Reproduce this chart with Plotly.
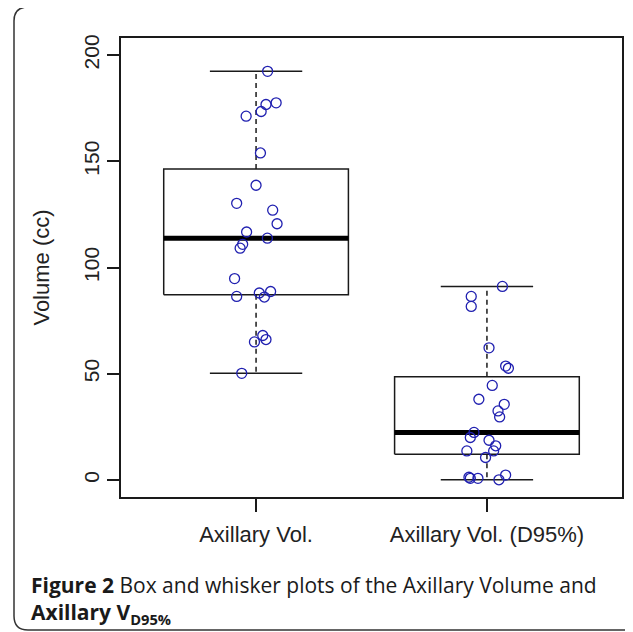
import numpy as np
import plotly.graph_objects as go

# ---------------- data ----------------
categories = ["Axillary Vol.", "Axillary Vol. (D95%)"]

axillary_vol = [192.3, 177.5, 176.7, 173.4, 171.2, 153.9, 138.7, 130.2, 127.0,
                120.6, 116.7, 113.8, 110.9, 109.1, 94.8, 86.4, 88.0, 86.1, 88.7,
                68.0, 66.1, 65.0, 50.2]
axillary_jitter = [0.050, 0.087, 0.043, 0.022, -0.043, 0.019, 0.000, -0.084, 0.072,
                   0.091, -0.041, 0.049, -0.058, -0.069, -0.093, -0.084, 0.014, 0.036,
                   0.063, 0.029, 0.043, -0.007, -0.062]

axillary_d95 = [91.1, 86.4, 81.7, 62.2, 53.6, 52.6, 44.5, 38.0, 35.6, 32.5, 29.7,
                22.4, 20.0, 18.7, 16.1, 13.7, 13.7, 10.6, 1.3, 0.8, 0.8, 2.3, 0.1]
d95_jitter = [0.067, -0.068, -0.068, 0.009, 0.081, 0.093, 0.023, -0.035, 0.075,
              0.048, 0.055, -0.056, -0.072, 0.009, 0.038, 0.029, -0.087, -0.006,
              -0.078, -0.072, -0.039, 0.081, 0.052]

y_tick_values = [0, 50, 100, 150, 200]
y_title = "Volume (cc)"
caption = ("<b>Figure 2</b> Box and whisker plots of the Axillary Volume and<br>"
           "<b>Axillary V<sub>D95%</sub></b>")

series = [axillary_vol, axillary_d95]
jitters = [axillary_jitter, d95_jitter]

# ---------------- layout geometry ----------------
OFF = 8                                  # page body margin
W, H = 633 - OFF, 632 - OFF
L, R, T, B = 121 - OFF, 622 - OFF, 38 - OFF, 497 - OFF   # plot area in figure pixels
BOX_HALF = 0.4
CAP_HALF = 0.2
LINE = "#1a1a1a"
PT = "#2020b0"


def tukey_stats(vals):
    v = np.sort(np.asarray(vals, dtype=float))
    n = len(v)
    n4 = np.floor((n + 3) / 2) / 2
    idx = np.array([1, n4, (n + 1) / 2, n + 1 - n4, n]) - 1
    s = 0.5 * (v[np.floor(idx).astype(int)] + v[np.ceil(idx).astype(int)])
    return s  # min, lower hinge, median, upper hinge, max


fig = go.Figure()

for i, vals in enumerate(series):
    xc = i + 1
    mn, q1, med, q3, mx = tukey_stats(vals)
    fig.add_trace(go.Scatter(x=[xc, xc, None, xc, xc], y=[q3, mx, None, q1, mn],
                             mode="lines", line=dict(color=LINE, width=1.5, dash="5px,4px"),
                             hoverinfo="skip", showlegend=False))
    fig.add_trace(go.Scatter(x=[xc - CAP_HALF, xc + CAP_HALF, None, xc - CAP_HALF, xc + CAP_HALF],
                             y=[mx, mx, None, mn, mn],
                             mode="lines", line=dict(color=LINE, width=1.5),
                             hoverinfo="skip", showlegend=False))
    fig.add_trace(go.Scatter(x=[xc - BOX_HALF, xc + BOX_HALF, xc + BOX_HALF, xc - BOX_HALF, xc - BOX_HALF],
                             y=[q1, q1, q3, q3, q1],
                             mode="lines", line=dict(color=LINE, width=1.5),
                             hoverinfo="skip", showlegend=False))
    fig.add_trace(go.Scatter(x=[xc - BOX_HALF, xc + BOX_HALF], y=[med, med],
                             mode="lines", line=dict(color="#000000", width=5),
                             hoverinfo="skip", showlegend=False))

for i, (vals, jit) in enumerate(zip(series, jitters)):
    fig.add_trace(go.Scatter(x=[i + 1 + j for j in jit], y=vals, mode="markers",
                             marker=dict(symbol="circle-open", size=10,
                                         color=PT, line=dict(width=1.3, color=PT)),
                             name=categories[i], showlegend=False))

pw, ph = R - L, B - T


def px(x):
    return (x - OFF - L) / pw


def py(y):
    return (B - (y - OFF)) / ph


# outer rounded frame (absolute page pixels)
fx0, fy0, fx1, fy1, rad = 14, 7, 660, 630, 14
frame = (f"M {px(fx1)} {py(fy0)} L {px(fx0 + rad)} {py(fy0)} "
         f"Q {px(fx0)} {py(fy0)} {px(fx0)} {py(fy0 + rad)} "
         f"L {px(fx0)} {py(fy1 - rad)} "
         f"Q {px(fx0)} {py(fy1)} {px(fx0 + rad)} {py(fy1)} "
         f"L {px(fx1)} {py(fy1)}")

fig.update_layout(
    width=W, height=H,
    margin=dict(l=L, r=W - R, t=T, b=H - B, autoexpand=False),
    paper_bgcolor="white", plot_bgcolor="white",
    font=dict(family="Liberation Sans, Arial, sans-serif", color="#222222"),
    xaxis=dict(range=[0.415, 2.585], tickmode="array", tickvals=[1, 2],
               ticktext=categories, ticks="outside", ticklen=13, tickwidth=1.5,
               tickcolor=LINE, showline=True, linecolor=LINE, linewidth=1.5,
               mirror=True, showgrid=False, zeroline=False,
               tickfont=dict(size=22), ticklabelstandoff=4),
    yaxis=dict(range=[-8, 208], tickmode="array", tickvals=y_tick_values,
               ticks="outside", ticklen=12, tickwidth=1.5, tickcolor=LINE,
               showline=True, linecolor=LINE, linewidth=1.5, mirror=True,
               showgrid=False, zeroline=False, tickangle=-90,
               tickfont=dict(size=21), ticklabelstandoff=0,
               title=dict(text=y_title, font=dict(size=22), standoff=24)),
    shapes=[dict(type="path", xref="paper", yref="paper", path=frame,
                 line=dict(color="#333333", width=1.5), layer="above")],
    annotations=[dict(text=caption, xref="paper", yref="paper",
                      x=px(29), y=py(569), xanchor="left", yanchor="top",
                      align="left", showarrow=False,
                      font=dict(family="Open Sans, sans-serif", size=21, color="#1a1a1a"))],
)

fig.write_html("out.html")
